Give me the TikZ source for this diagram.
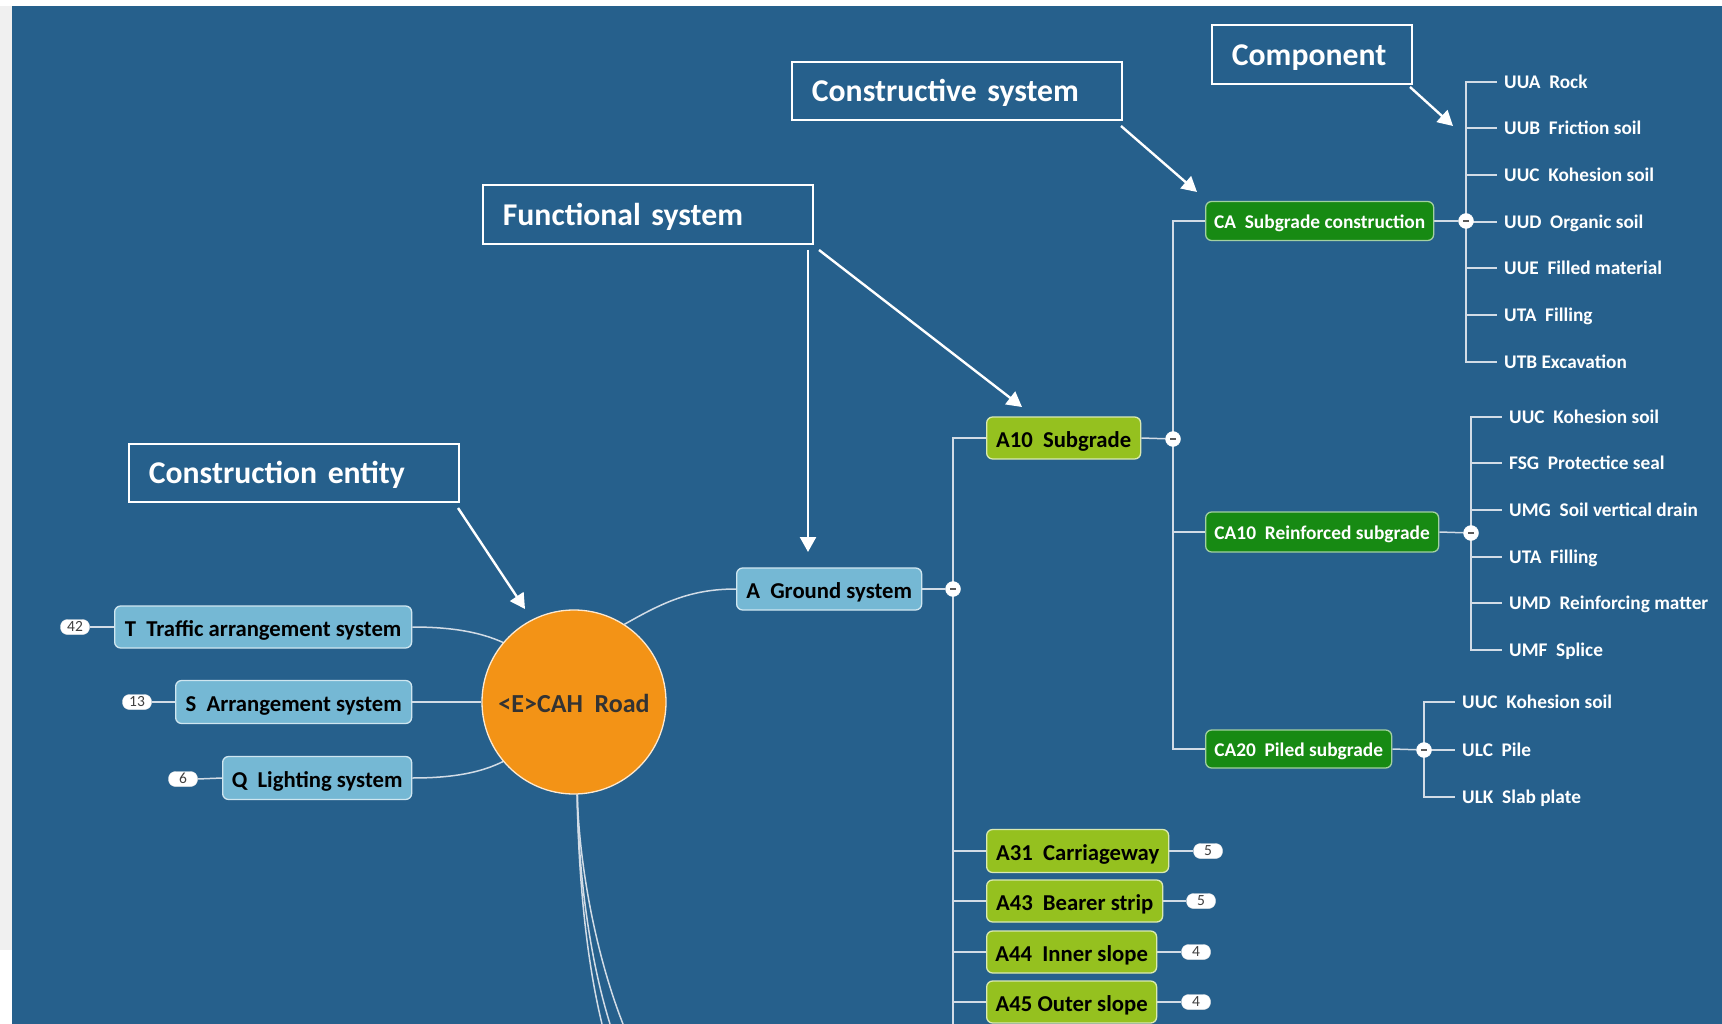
\documentclass[tikz,border=0pt]{standalone}
\usepackage{fontspec}
\setmainfont{Carlito}
\usetikzlibrary{arrows.meta}

\definecolor{bgblue}{RGB}{38,96,140}
\definecolor{sidegrey}{RGB}{240,240,240}
\definecolor{boxblue}{RGB}{117,184,212}
\definecolor{boxlime}{RGB}{149,193,31}
\definecolor{boxgreen}{RGB}{23,138,19}
\definecolor{hubfill}{RGB}{243,147,22}
\definecolor{wire}{RGB}{210,220,230}

\newcommand{\codegap}{\hspace{0.45em}}

\pgfdeclarelayer{back}
\pgfdeclarelayer{wires}
\pgfsetlayers{back,wires,main}

\begin{document}
\begin{tikzpicture}[x=1pt,y=-1pt,
  topic/.style={draw=white!65!boxblue, fill=boxblue, line width=1.3pt,
    rounded corners=6pt, anchor=west, inner sep=0pt, minimum height=42pt,
    text=black, text height=18.6pt, text depth=0pt,
    font=\fontsize{22.7}{26}\selectfont\bfseries},
  limebox/.style={topic, draw=white!65!boxlime, fill=boxlime},
  greenbox/.style={topic, draw=white!60!boxgreen, fill=boxgreen, text=white,
    text height=15.6pt, font=\fontsize{19.4}{23}\selectfont\bfseries},
  hubnode/.style={circle, draw=white!80!hubfill, fill=hubfill, line width=1.3pt,
    minimum size=184pt, inner sep=0pt, text=black!80,
    text height=21pt, text depth=0pt,
    font=\fontsize{26}{30}\selectfont\bfseries},
  badge/.style={draw=white!85!gray, fill=white, rounded corners=7pt,
    minimum width=29pt, minimum height=15pt, inner sep=0pt, text=black!75,
    text height=9.8pt, text depth=0pt, font=\fontsize{15.5}{16}\selectfont},
  collapse/.style={circle, fill=white, draw=white, minimum size=15pt, inner sep=0pt,
    path picture={\draw[line width=1.8pt, black!65]
      ([xshift=-3pt]path picture bounding box.center) --
      ([xshift=3pt]path picture bounding box.center);}},
  leaf/.style={anchor=west, inner xsep=7pt, inner ysep=2pt, text=white,
    text height=13.3pt, text depth=0pt,
    font=\fontsize{19.3}{23}\selectfont\bfseries},
  note/.style={draw=white, line width=1.8pt, anchor=north west, align=left,
    inner xsep=20pt, inner ysep=0pt, text=white,
    text height=21.5pt, text depth=0pt,
    font=\fontsize{31.7}{36}\selectfont\bfseries},
  link/.style={draw=wire, line width=1.5pt},
  pointer/.style={draw=white, line width=2.4pt,
    -{Triangle[width=16pt,length=15pt]}}
]
\useasboundingbox (0,0) rectangle (1722,1024);

% canvas
\begin{pgfonlayer}{back}
  \fill[bgblue] (0,0) rectangle (1722,1024);
  \fill[white] (0,0) rectangle (1722,6);
  \fill[sidegrey] (0,6) rectangle (12,950);
  \fill[white] (0,950) rectangle (12,1024);
\end{pgfonlayer}

% central entity and first-level systems
\node[hubnode] (hub) at (574,702) {<E>CAH\codegap Road};
\node[topic, minimum width=297pt] (tsys) at (114,627) {T\codegap Traffic arrangement system};
\node[topic, minimum width=236pt, minimum height=43pt] (ssys) at (175,702) {S\codegap Arrangement system};
\node[topic, minimum width=189pt, minimum height=43pt] (qsys) at (222,778) {Q\codegap Lighting system};
\node[topic, minimum width=185pt] (asys) at (736,589) {A\codegap Ground system};

\node[badge] (n42) at (75,627) {42};
\node[badge] (n13) at (137,702) {13};
\node[badge] (n6) at (183,779) {6};

% functional subsystems of the ground system
\node[limebox, minimum width=154pt] (a10) at (986,438) {A10\codegap Subgrade};
\node[limebox, minimum width=182pt, minimum height=43pt] (a31) at (986,851) {A31\codegap Carriageway};
\node[limebox, minimum width=176pt] (a43) at (986,901) {A43\codegap Bearer strip};
\node[limebox, minimum width=170pt] (a44) at (986,952) {A44\codegap Inner slope};
\node[limebox, minimum width=170pt] (a45) at (986,1002) {A45 Outer slope};

\node[badge] (n31) at (1208,851) {5};
\node[badge] (n43) at (1201,901) {5};
\node[badge] (n44) at (1196,952) {4};
\node[badge] (n45) at (1196,1002) {4};

% constructive systems of the subgrade
\node[greenbox, minimum width=228pt, minimum height=39pt] (ca) at (1205,221) {CA\codegap Subgrade construction};
\node[greenbox, minimum width=233pt, minimum height=40pt] (ca10) at (1205,532) {CA10\codegap Reinforced subgrade};
\node[greenbox, minimum width=186pt, minimum height=38pt] (ca20) at (1205,749) {CA20\codegap Piled subgrade};

% collapse markers
\node[collapse] (mg) at (953,589) {};
\node[collapse] (ma10) at (1173,439) {};
\node[collapse] (mca) at (1466,221) {};
\node[collapse] (mca10) at (1471,533) {};
\node[collapse] (mca20) at (1424,750) {};

% components
\node[leaf] (ca1) at (1497,82) {UUA\codegap Rock};
\node[leaf] (ca2) at (1497,128) {UUB\codegap Friction soil};
\node[leaf] (ca3) at (1497,175) {UUC\codegap Kohesion soil};
\node[leaf] (ca4) at (1497,222) {UUD\codegap Organic soil};
\node[leaf] (ca5) at (1497,268) {UUE\codegap Filled material};
\node[leaf] (ca6) at (1497,315) {UTA\codegap Filling};
\node[leaf] (ca7) at (1497,362) {UTB Excavation};

\node[leaf] (cb1) at (1502,417) {UUC\codegap Kohesion soil};
\node[leaf] (cb2) at (1502,463) {FSG\codegap Protectice seal};
\node[leaf] (cb3) at (1502,510) {UMG\codegap Soil vertical drain};
\node[leaf] (cb4) at (1502,557) {UTA\codegap Filling};
\node[leaf] (cb5) at (1502,603) {UMD\codegap Reinforcing matter};
\node[leaf] (cb6) at (1502,650) {UMF\codegap Splice};

\node[leaf] (cc1) at (1455,702) {UUC\codegap Kohesion soil};
\node[leaf] (cc2) at (1455,750) {ULC\codegap Pile};
\node[leaf] (cc3) at (1455,797) {ULK\codegap Slab plate};

% level labels
\node[note, text width=160pt, minimum height=59pt] (lbComponent) at (1211,24) {Component};
\node[note, text width=290pt, minimum height=58pt] (lbConstructive) at (791,61) {Constructive system};
\node[note, text width=290pt, minimum height=59pt] (lbFunctional) at (482,184) {Functional system};
\node[note, text width=290pt, minimum height=58pt] (lbEntity) at (128,443) {Construction entity};

% free ends of the pointers and of the branches that leave the sheet
\coordinate (pComp0) at (1410,87);   \coordinate (pComp1) at (1453,126);
\coordinate (pCons0) at (1121,126);  \coordinate (pCons1) at (1197,192);
\coordinate (pFunA0) at (808,250);   \coordinate (pFunA1) at (808,552);
\coordinate (pFunB0) at (819,250);   \coordinate (pFunB1) at (1022,407);
\coordinate (pEnt0) at (458,508);    \coordinate (pEnt1) at (525,609);
\coordinate (gEnd) at (953,1024);
\coordinate (down1) at (602,1024);
\coordinate (down2) at (610,1024);
\coordinate (down3) at (623,1024);

\begin{pgfonlayer}{wires}
  % hub to first-level systems
  \draw[link] (tsys.east) .. controls (455,627) and (482,633) .. (hub.140);
  \draw[link] (ssys.east) -- (hub.west);
  \draw[link] (qsys.east) .. controls (455,778) and (482,772) .. (hub.220);
  \draw[link] (hub.57) .. controls (662,603) and (690,589) .. (asys.west);
  \draw[link] (hub.-88) .. controls (578,860) and (584,950) .. (down1);
  \draw[link] (hub.-88) .. controls (578,860) and (587,950) .. (down2);
  \draw[link] (hub.-88) .. controls (579,860) and (594,950) .. (down3);
  \draw[link] (tsys.west) -- (n42.east);
  \draw[link] (ssys.west) -- (n13.east);
  \draw[link] (qsys.west) -- (n6.east);
  % ground system branch
  \draw[link] (asys.east) -- (mg);
  \draw[link] (mg.center) |- (a10.west);
  \draw[link] (mg.center) -- (gEnd);
  \foreach \t in {a31,a43,a44,a45} \draw[link] (mg.center) |- (\t.west);
  \draw[link] (a31.east) -- (n31.west);
  \draw[link] (a43.east) -- (n43.west);
  \draw[link] (a44.east) -- (n44.west);
  \draw[link] (a45.east) -- (n45.west);
  % subgrade branch
  \draw[link] (a10.east) -- (ma10);
  \foreach \t in {ca,ca10,ca20} \draw[link] (ma10.center) |- (\t.west);
  \draw[link] (ca.east) -- (mca);
  \foreach \t in {ca1,ca2,ca3,ca4,ca5,ca6,ca7} \draw[link] (mca.center) |- (\t.west);
  \draw[link] (ca10.east) -- (mca10);
  \foreach \t in {cb1,cb2,cb3,cb4,cb5,cb6} \draw[link] (mca10.center) |- (\t.west);
  \draw[link] (ca20.east) -- (mca20);
  \foreach \t in {cc1,cc2,cc3} \draw[link] (mca20.center) |- (\t.west);
\end{pgfonlayer}

% pointers from the level labels
\draw[pointer] (pComp0) -- (pComp1);
\draw[pointer] (pCons0) -- (pCons1);
\draw[pointer] (pFunA0) -- (pFunA1);
\draw[pointer] (pFunB0) -- (pFunB1);
\draw[pointer] (pEnt0) -- (pEnt1);
\end{tikzpicture}
\end{document}
